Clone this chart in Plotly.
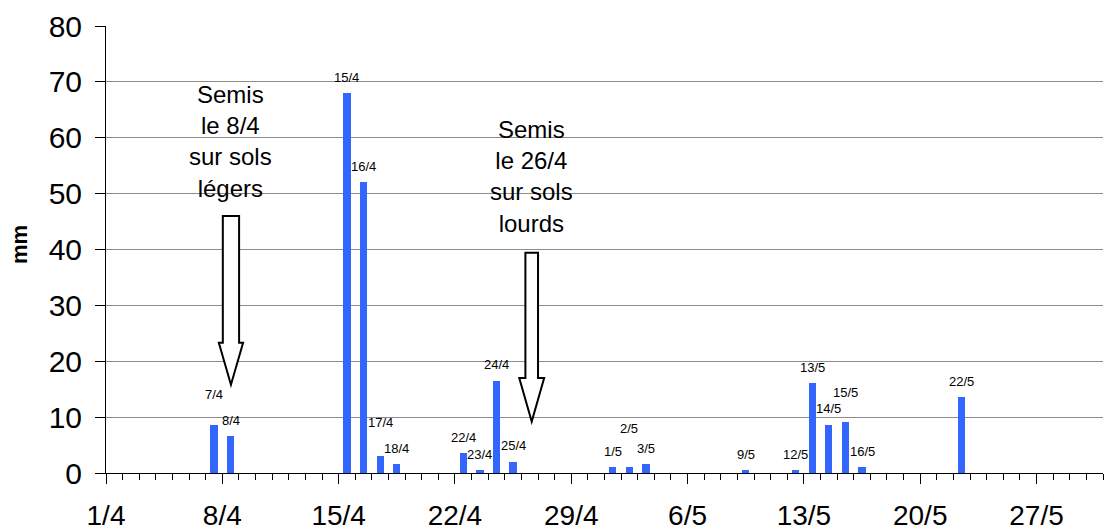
import plotly.graph_objects as go

# Daily rainfall (mm), April-May
rain_dates = ["7/4", "8/4", "15/4", "16/4", "17/4", "18/4", "22/4", "23/4", "24/4", "25/4",
              "1/5", "2/5", "3/5", "9/5", "12/5", "13/5", "14/5", "15/5", "16/5", "22/5"]
rain_mm = [8.6, 6.6, 68, 52, 3.0, 1.6, 3.5, 0.5, 16.5, 2.0,
           1.0, 1.0, 1.6, 0.5, 0.5, 16.1, 8.6, 9.2, 1.0, 13.6]
tick_labels = ["1/4", "8/4", "15/4", "22/4", "29/4", "6/5", "13/5", "20/5", "27/5"]
y_ticks = [0, 10, 20, 30, 40, 50, 60, 70, 80]


def day_index(label):
    d, m = (int(v) for v in label.split("/"))
    return d - 1 + (30 if m == 5 else 0)


FONT = "Liberation Sans, Arial, sans-serif"
BLUE = "#3366FF"

bar_x = [day_index(d) + 0.5 for d in rain_dates]

fig = go.Figure()
fig.add_trace(go.Bar(
    x=bar_x, y=rain_mm, width=0.44,
    marker=dict(color=BLUE, line=dict(width=0)),
    hoverinfo="skip", showlegend=False,
))

# date labels above each bar; a few are lifted further to avoid overlaps
lift = {"7/4": 30, "17/4": 34, "2/5": 39, "15/5": 29}
for d, x, v in zip(rain_dates, bar_x, rain_mm):
    fig.add_annotation(x=x, y=v, xref="x", yref="y", text=d, showarrow=False,
                       yanchor="middle", yshift=lift.get(d, 16),
                       font=dict(family=FONT, size=13, color="black"))


def block_arrow(xc, top, shaft_bottom, tip, shaft_half, head_half):
    return (f"M {xc - shaft_half},{top} L {xc + shaft_half},{top} "
            f"L {xc + shaft_half},{shaft_bottom} L {xc + head_half},{shaft_bottom} "
            f"L {xc},{tip} L {xc - head_half},{shaft_bottom} "
            f"L {xc - shaft_half},{shaft_bottom} Z")


# sowing markers
sowings = [
    dict(xc=7.52, top=46.0, sb=23.3, tip=15.8, sh=0.49, hh=0.73,
         text="Semis<br>le 8/4<br>sur sols<br>légers", ty=59.3),
    dict(xc=25.62, top=39.4, sb=17.0, tip=9.2, sh=0.38, hh=0.75,
         text="Semis<br>le 26/4<br>sur sols<br>lourds", ty=53.1),
]
for s in sowings:
    fig.add_shape(type="path", xref="x", yref="y",
                  path=block_arrow(s["xc"], s["top"], s["sb"], s["tip"], s["sh"], s["hh"]),
                  fillcolor="white", line=dict(color="black", width=2), layer="above")
    fig.add_annotation(x=s["xc"], y=s["ty"], xref="x", yref="y", text=s["text"],
                       showarrow=False, align="center", yanchor="middle",
                       font=dict(family=FONT, size=24, color="black"))

# y-axis title
fig.add_annotation(x=0, y=0.51, xref="paper", yref="paper", xshift=-87,
                   text="<b>mm</b>", textangle=-90, showarrow=False,
                   xanchor="center", yanchor="middle",
                   font=dict(family=FONT, size=22, color="black"))

fig.update_layout(
    width=1107, height=532,
    margin=dict(l=106, r=4, t=26, b=59),
    paper_bgcolor="white", plot_bgcolor="white",
    font=dict(family=FONT, color="black"),
    bargap=0,
    xaxis=dict(
        range=[0, 60], tickmode="array", automargin=False,
        tickvals=[day_index(t) for t in tick_labels], ticktext=tick_labels,
        ticks="outside", ticklen=10, tickcolor="black", tickwidth=1,
        tickfont=dict(family=FONT, size=28, color="black"),
        ticklabelstandoff=7,
        showline=True, linecolor="black", linewidth=1,
        showgrid=False, zeroline=False, fixedrange=True,
        minor=dict(tickmode="linear", tick0=0, dtick=1, ticks="outside",
                   ticklen=6, tickcolor="black", tickwidth=1, showgrid=False),
    ),
    yaxis=dict(
        range=[0, 80], tickmode="array", tickvals=y_ticks, automargin=False,
        ticks="outside", ticklen=10, tickcolor="black", tickwidth=1,
        tickfont=dict(family=FONT, size=30, color="black"),
        ticklabelstandoff=7,
        showline=True, linecolor="black", linewidth=1,
        showgrid=True, gridcolor="#8c8c8c", gridwidth=1,
        zeroline=False, fixedrange=True,
    ),
)

fig.write_html("out.html")
